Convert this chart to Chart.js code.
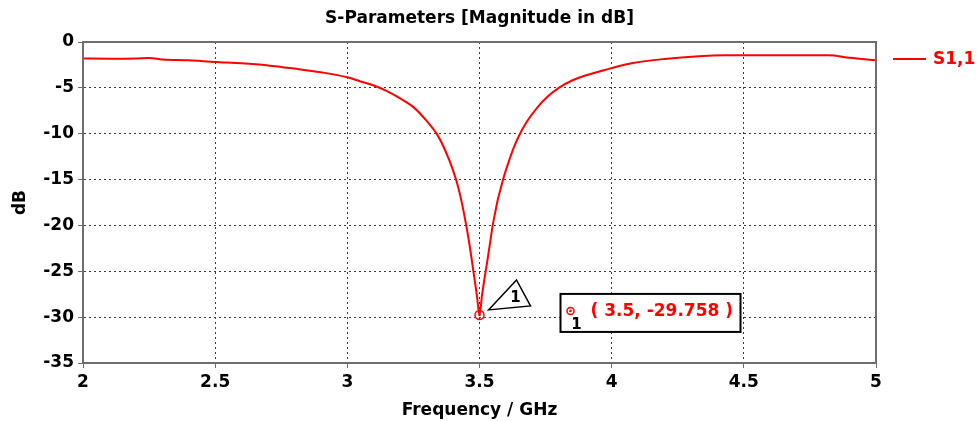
<!DOCTYPE html>
<html>
<head>
<meta charset="utf-8">
<script src="https://cdn.jsdelivr.net/npm/chart.js@4.4.1/dist/chart.umd.min.js"></script>
<style>
  html, body { margin: 0; padding: 0; background: #fff; }
  #wrap { width: 977px; height: 421px; position: relative; }
</style>
</head>
<body>
<div id="wrap"><canvas id="sparam" width="977" height="421"></canvas></div>
<script>
// S1,1 magnitude sweep (GHz / dB)
const freqGHz = [
  2.00, 2.10, 2.20, 2.25, 2.30, 2.40, 2.50, 2.60, 2.70, 2.80, 2.90,
  3.00, 3.05, 3.10, 3.15, 3.20, 3.25, 3.30, 3.34, 3.37, 3.40, 3.42,
  3.44, 3.46, 3.48, 3.49, 3.50, 3.51, 3.52, 3.53, 3.54, 3.55, 3.56,
  3.57, 3.58, 3.59, 3.61, 3.63, 3.65, 3.68, 3.72, 3.76, 3.80, 3.85,
  3.90, 3.95, 4.00, 4.08, 4.20, 4.33, 4.43, 4.60, 4.82, 4.90, 5.00
];
const s11dB = [
  -1.80, -1.82, -1.80, -1.75, -1.90, -2.00, -2.18, -2.32, -2.55, -2.90, -3.30,
  -3.85, -4.30, -4.75, -5.35, -6.15, -7.10, -8.60, -10.1, -11.8, -14.0, -15.9,
  -18.5, -21.7, -25.6, -27.6, -29.758, -27.5, -25.6, -23.8, -21.9, -20.0, -18.5,
  -17.1, -16.0, -14.9, -13.1, -11.5, -10.2, -8.65, -7.10, -5.90, -5.00, -4.20,
  -3.65, -3.25, -2.85, -2.30, -1.85, -1.55, -1.45, -1.44, -1.44, -1.72, -1.98
];

// marker 1
const markerFreq = [3.5];
const markerDB = [-29.758];

const xTicks = [2, 2.5, 3, 3.5, 4, 4.5, 5];
const yTicks = [0, -5, -10, -15, -20, -25, -30, -35];

const FONT = '"DejaVu Sans", Verdana, sans-serif';
const RED = '#ff0000';

const points = freqGHz.map((f, i) => ({ x: f, y: s11dB[i] }));

// frame, title, legend, axis titles and the marker readout
const decorPlugin = {
  id: 'decor',
  afterDatasetsDraw(chart) {
    const { ctx, chartArea: a, scales } = chart;
    ctx.save();

    // box around the plot
    ctx.strokeStyle = '#6e6e6e';
    ctx.lineWidth = 2;
    ctx.strokeRect(a.left, a.top, a.right - a.left, a.bottom - a.top);

    // title
    ctx.fillStyle = '#000';
    ctx.font = 'bold 17px ' + FONT;
    ctx.textAlign = 'center';
    ctx.textBaseline = 'middle';
    ctx.fillText('S-Parameters [Magnitude in dB]', (a.left + a.right) / 2, 19);

    // x axis title
    ctx.fillText('Frequency / GHz', (a.left + a.right) / 2, 411);

    // y axis title
    ctx.save();
    ctx.translate(21, (a.top + a.bottom) / 2);
    ctx.rotate(-Math.PI / 2);
    ctx.fillText('dB', 0, 0);
    ctx.restore();

    // legend
    const ds = chart.data.datasets[0];
    ctx.strokeStyle = RED;
    ctx.lineWidth = 2;
    ctx.beginPath();
    ctx.moveTo(a.right + 17, 59);
    ctx.lineTo(a.right + 50, 59);
    ctx.stroke();
    ctx.fillStyle = RED;
    ctx.textAlign = 'left';
    ctx.fillText(ds.label, a.right + 57, 60);

    // marker 1
    const mx = scales.x.getPixelForValue(markerFreq[0]);
    const my = scales.y.getPixelForValue(markerDB[0]);
    const drawMark = (x, y, r) => {
      ctx.strokeStyle = RED;
      ctx.lineWidth = 1.5;
      ctx.beginPath();
      ctx.arc(x, y, r, 0, Math.PI * 2);
      ctx.stroke();
      ctx.fillStyle = RED;
      ctx.beginPath();
      ctx.arc(x, y, 1.3, 0, Math.PI * 2);
      ctx.fill();
    };
    drawMark(mx, my, 4.5);

    // pointer triangle with its number
    ctx.strokeStyle = '#000';
    ctx.lineWidth = 1.5;
    ctx.beginPath();
    ctx.moveTo(mx + 9, my - 5);
    ctx.lineTo(mx + 37, my - 35);
    ctx.lineTo(mx + 51, my - 9);
    ctx.closePath();
    ctx.stroke();
    ctx.fillStyle = '#000';
    ctx.font = 'bold 15px ' + FONT;
    ctx.textAlign = 'center';
    ctx.fillText('1', mx + 36, my - 17);

    // readout box
    const bx = mx + 81, by = my - 21, bw = 180, bh = 38;
    ctx.fillStyle = '#fff';
    ctx.fillRect(bx, by, bw, bh);
    ctx.strokeStyle = '#000';
    ctx.lineWidth = 2;
    ctx.strokeRect(bx, by, bw, bh);
    drawMark(bx + 10, my - 4, 3.5);
    ctx.fillStyle = '#000';
    ctx.font = 'bold 15px ' + FONT;
    ctx.fillText('1', bx + 16, my + 10);
    ctx.fillStyle = RED;
    ctx.font = 'bold 17px ' + FONT;
    ctx.textAlign = 'left';
    ctx.fillText('( ' + markerFreq[0] + ', ' + markerDB[0] + ' )', bx + 30, my - 3);

    ctx.restore();
  }
};

new Chart(document.getElementById('sparam'), {
  type: 'line',
  data: {
    datasets: [{
      label: 'S1,1',
      data: points,
      borderColor: RED,
      borderWidth: 2,
      pointRadius: 0,
      fill: false,
      cubicInterpolationMode: 'monotone'
    }]
  },
  options: {
    responsive: false,
    animation: false,
    layout: { padding: { top: 42, right: 101, left: 0, bottom: 0 } },
    plugins: { legend: { display: false }, tooltip: { enabled: false } },
    scales: {
      x: {
        type: 'linear',
        min: 2, max: 5,
        afterFit: s => { s.height = 58; },
        afterBuildTicks: s => { s.ticks = xTicks.map(v => ({ value: v })); },
        ticks: {
          color: '#000',
          font: { family: FONT, size: 17, weight: 'bold' },
          padding: 4,
          maxRotation: 0,
          callback: v => String(v)
        },
        grid: { color: '#3a3a3a', lineWidth: 1, tickLength: 5, tickColor: '#6e6e6e' },
        border: { color: '#6e6e6e', width: 2, dash: [2, 3] }
      },
      y: {
        min: -35, max: 0,
        afterFit: s => { s.width = 83; },
        afterBuildTicks: s => { s.ticks = yTicks.map(v => ({ value: v })); },
        ticks: {
          color: '#000',
          font: { family: FONT, size: 17, weight: 'bold' },
          padding: 4,
          callback: v => String(v)
        },
        grid: { color: '#3a3a3a', lineWidth: 1, tickLength: 5, tickColor: '#6e6e6e' },
        border: { color: '#6e6e6e', width: 2, dash: [2, 3] }
      }
    }
  },
  plugins: [decorPlugin]
});
</script>
</body>
</html>
